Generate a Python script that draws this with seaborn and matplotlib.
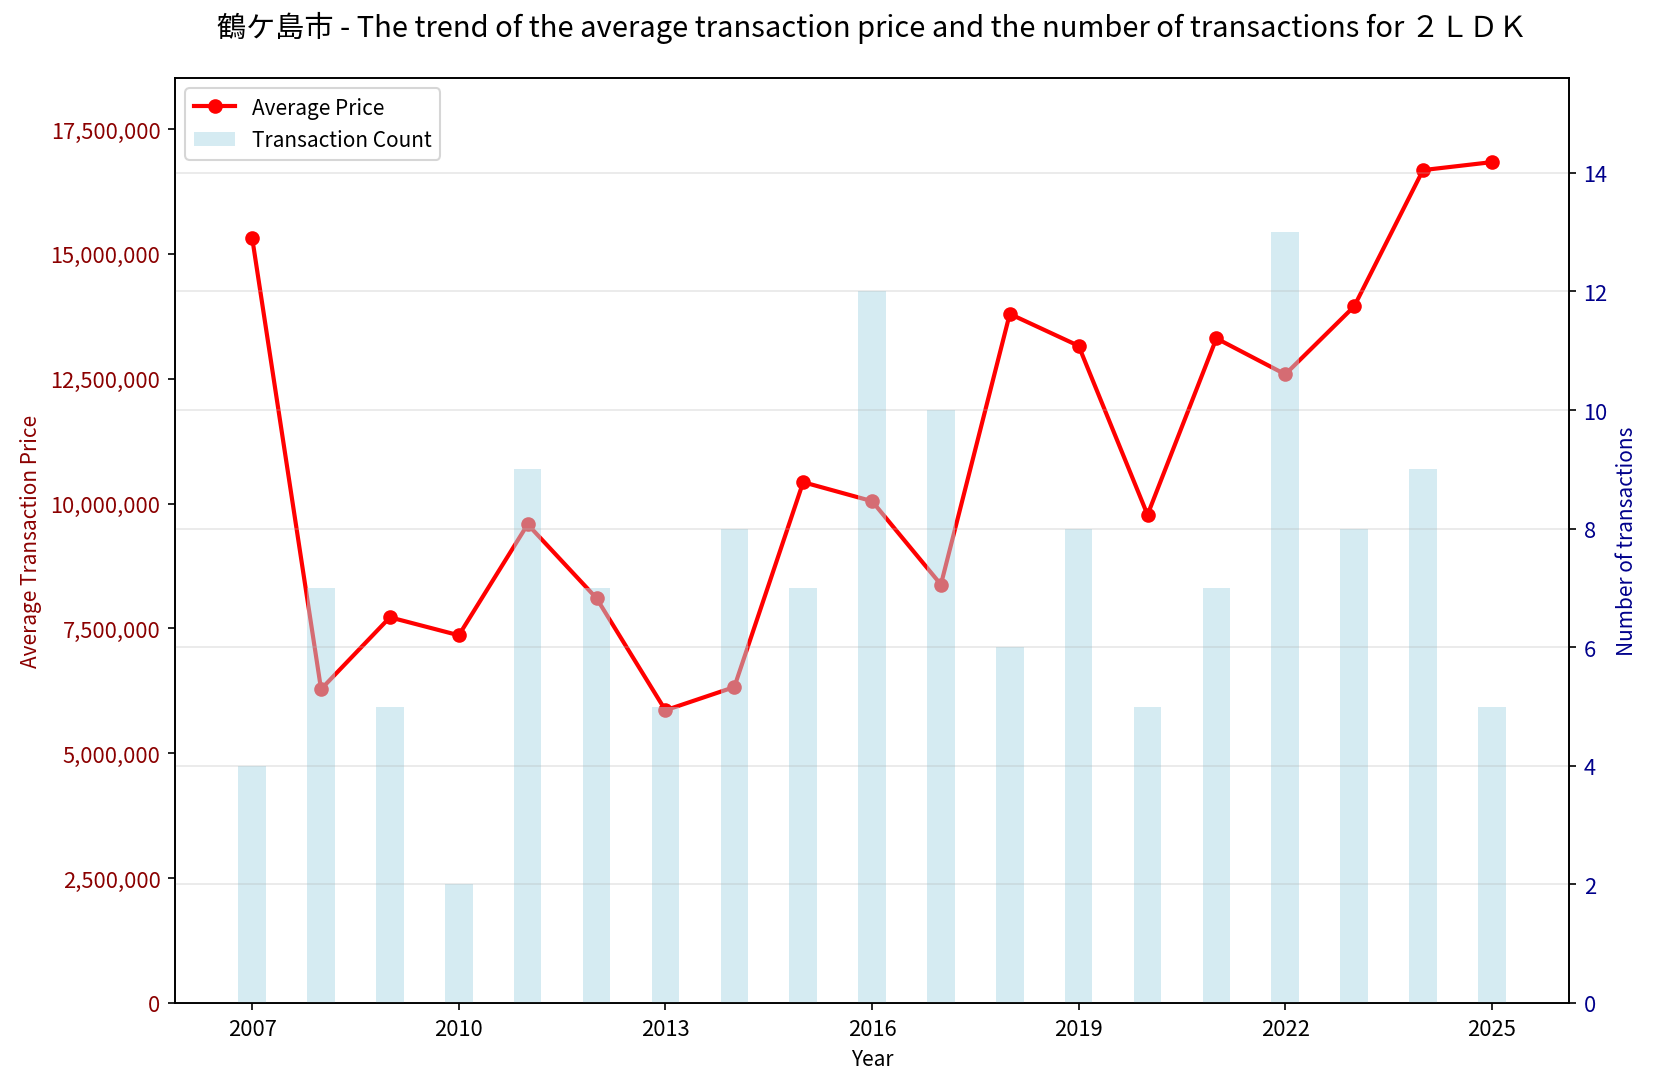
import matplotlib
matplotlib.use("Agg")
import matplotlib.pyplot as plt
import matplotlib.ticker as mticker
import seaborn as sns

years = [2007, 2008, 2009, 2010, 2011, 2012, 2013, 2014, 2015, 2016,
         2017, 2018, 2019, 2020, 2021, 2022, 2023, 2024, 2025]
avg_price = [15320000, 6285000, 7724000, 7364000, 9586000, 8105000, 5862000,
             6327000, 10430000, 10050000, 8380000, 13800000, 13160000,
             9777000, 13310000, 12590000, 13950000, 16680000, 16840000]
counts = [4, 7, 5, 2, 9, 7, 5, 8, 7, 12, 10, 6, 8, 5, 7, 13, 8, 9, 5]

plt.rcParams['font.family'] = ['Noto Sans CJK JP', 'DejaVu Sans']

fig, ax1 = plt.subplots(figsize=(11.02, 7.213), dpi=150)
fig.subplots_adjust(left=0.1059, right=0.9492, top=0.927, bottom=0.0721)

sns.lineplot(x=years, y=avg_price, ax=ax1, color='red', marker='o',
             linewidth=2, markersize=6, markeredgecolor='red',
             markeredgewidth=1, label='Average Price')
ax1.set_ylim(0, max(avg_price) * 1.1)
ax1.set_xlabel('Year', fontsize=10)
ax1.set_ylabel('Average Transaction Price', color='darkred', fontsize=10)
ax1.tick_params(axis='y', labelcolor='darkred', labelsize=10.5)
ax1.tick_params(axis='x', labelsize=10.5)
ax1.yaxis.set_major_formatter(mticker.FuncFormatter(lambda v, p: f'{int(v):,}'))
ax1.xaxis.set_major_locator(mticker.MultipleLocator(3))

ax2 = ax1.twinx()
ax2.bar(years, counts, width=0.4, color='lightblue', alpha=0.5,
        label='Transaction Count')
ax2.set_ylim(0, max(counts) * 1.2)
ax2.set_ylabel('Number of transactions', color='darkblue', fontsize=10)
ax2.tick_params(axis='y', labelcolor='darkblue', labelsize=10.5)
ax2.grid(axis='y', alpha=0.3)

ax1.get_legend().remove()
h1, l1 = ax1.get_legend_handles_labels()
h2, l2 = ax2.get_legend_handles_labels()
ax2.legend(h1 + h2, l1 + l2, loc='upper left', fontsize=10)

ax1.set_title('鶴ケ島市 - The trend of the average transaction price and the number of transactions for ２ＬＤＫ',
              fontsize=14, pad=20)

plt.savefig('out.png', dpi=150)
